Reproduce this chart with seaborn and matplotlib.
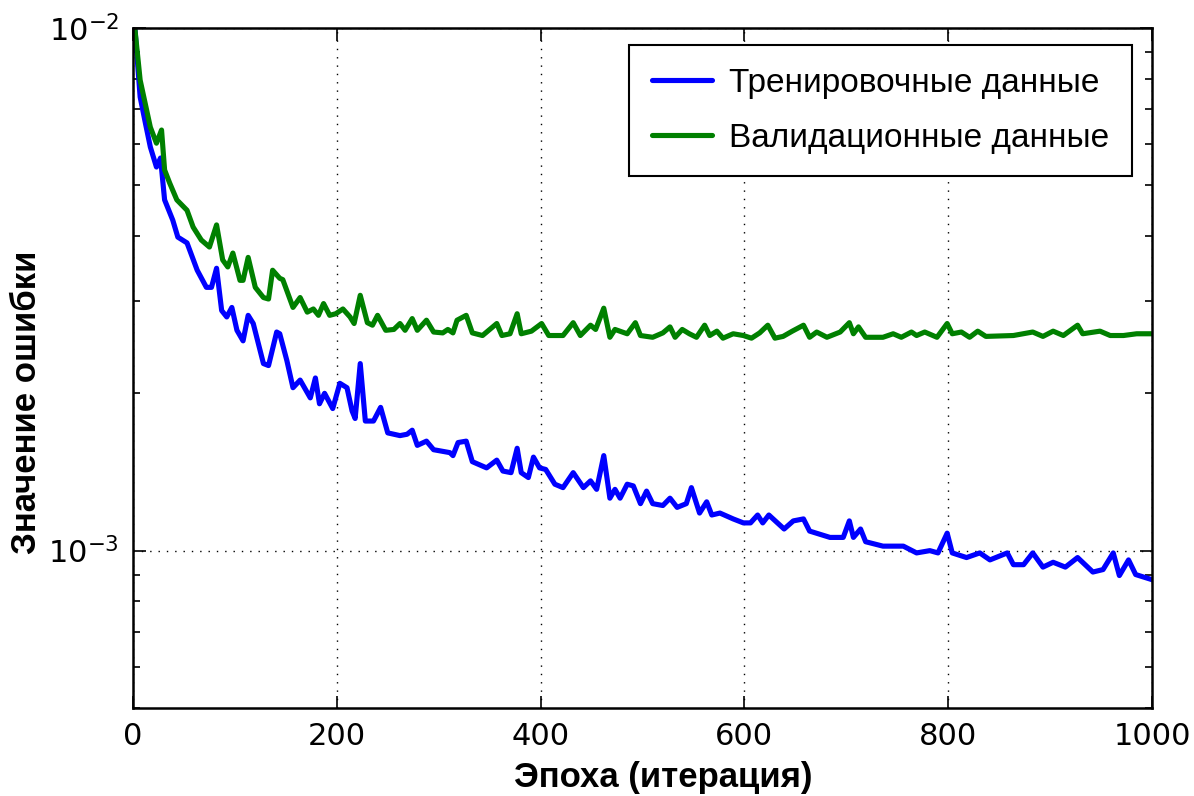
import numpy as np
import matplotlib
matplotlib.use("Agg")
import matplotlib.pyplot as plt
from matplotlib import ticker
import seaborn as sns

# error values
train_epoch = [0, 2, 7, 12, 17, 23, 27, 31, 39, 44, 53, 63, 72, 77, 82, 87, 92, 97, 102, 108,
               113, 118, 128, 133, 141, 144, 151, 157, 164, 174, 179, 183, 188, 196, 203, 210,
               215, 218, 223, 228, 236, 243, 250, 262, 269, 274, 279, 288, 295, 311, 314, 319,
               327, 333, 347, 357, 363, 371, 377, 381, 388, 393, 399, 405, 414, 422, 432, 442,
               449, 455, 462, 468, 473, 478, 485, 491, 498, 504, 510, 520, 527, 534, 543, 548,
               556, 563, 568, 576, 589, 599, 606, 613, 618, 624, 639, 648, 658, 664, 684, 697,
               703, 707, 714, 719, 736, 756, 769, 782, 790, 799, 804, 818, 831, 841, 858, 864,
               874, 883, 893, 903, 915, 927, 942, 952, 962, 968, 977, 984, 1000]
train_err = [0.0100, 0.0099, 0.00738, 0.0066, 0.00592, 0.00542, 0.00564, 0.00469, 0.00429, 0.00398,
             0.00388, 0.00344, 0.00319, 0.00319, 0.00347, 0.00288, 0.00280, 0.00292, 0.00264, 0.00252,
             0.00282, 0.00272, 0.00228, 0.00226, 0.00262, 0.00260, 0.00231, 0.00205, 0.00212, 0.00196,
             0.00214, 0.00191, 0.00200, 0.00187, 0.00209, 0.00205, 0.00185, 0.00179, 0.00228, 0.00177,
             0.00177, 0.00188, 0.00168, 0.00166, 0.00167, 0.00170, 0.00159, 0.00162, 0.00156, 0.00154,
             0.00152, 0.00161, 0.00162, 0.00148, 0.00144, 0.00149, 0.00142, 0.00141, 0.00157, 0.00141,
             0.00138, 0.00151, 0.00144, 0.00143, 0.00134, 0.00132, 0.00141, 0.00132, 0.00136, 0.00131,
             0.00152, 0.00126, 0.00131, 0.00126, 0.00134, 0.00133, 0.00123, 0.00130, 0.00123, 0.00122,
             0.00126, 0.00121, 0.00123, 0.00132, 0.00118, 0.00124, 0.00117, 0.00118, 0.00115, 0.00113,
             0.00113, 0.00117, 0.00113, 0.00117, 0.00110, 0.00114, 0.00115, 0.00109, 0.00106, 0.00106,
             0.00114, 0.00106, 0.00110, 0.00104, 0.00102, 0.00102, 0.00099, 0.00100, 0.00099, 0.00108,
             0.00099, 0.00097, 0.00099, 0.00096, 0.00099, 0.00094, 0.00094, 0.00099, 0.00093, 0.00095,
             0.00093, 0.00097, 0.00091, 0.00092, 0.00099, 0.000896, 0.00096, 0.00090, 0.00088]

val_epoch = [0, 2, 7, 17, 23, 28, 31, 36, 43, 53, 59, 67, 75, 82, 88, 93, 98, 105, 108, 113,
             120, 128, 133, 137, 144, 147, 157, 164, 171, 177, 182, 187, 193, 199, 206, 213,
             217, 223, 230, 235, 240, 248, 256, 262, 267, 274, 279, 288, 295, 304, 309, 314,
             318, 327, 333, 343, 357, 362, 370, 377, 381, 391, 401, 408, 422, 432, 439, 449,
             454, 462, 468, 473, 485, 493, 498, 510, 520, 527, 532, 539, 546, 553, 561, 566,
             573, 579, 589, 599, 607, 615, 623, 630, 638, 647, 658, 664, 671, 681, 694, 703,
             707, 712, 719, 736, 746, 754, 764, 769, 777, 789, 799, 804, 813, 821, 829, 837,
             864, 883, 893, 903, 913, 927, 932, 949, 959, 972, 985, 1000]
val_err = [0.0100, 0.0099, 0.00795, 0.00646, 0.00602, 0.00638, 0.00535, 0.00505, 0.00469, 0.00448,
           0.00416, 0.00393, 0.00381, 0.00420, 0.00360, 0.00349, 0.00371, 0.00329, 0.00329, 0.00364,
           0.00319, 0.00305, 0.00303, 0.00344, 0.00332, 0.00330, 0.00292, 0.00305, 0.00286, 0.00290,
           0.00282, 0.00297, 0.00282, 0.00284, 0.00290, 0.00280, 0.00272, 0.00308, 0.00273, 0.00270,
           0.00282, 0.00264, 0.00265, 0.00272, 0.00264, 0.00278, 0.00264, 0.00276, 0.00262, 0.00261,
           0.00265, 0.00261, 0.00276, 0.00282, 0.00261, 0.00258, 0.00272, 0.00258, 0.00260, 0.00284,
           0.00260, 0.00263, 0.00272, 0.00258, 0.00258, 0.00273, 0.00258, 0.00270, 0.00265, 0.00291,
           0.00256, 0.00265, 0.00260, 0.00273, 0.00258, 0.00256, 0.00261, 0.00268, 0.00256, 0.00265,
           0.00260, 0.00256, 0.00270, 0.00258, 0.00263, 0.00255, 0.00260, 0.00258, 0.00255, 0.00261,
           0.00270, 0.00255, 0.00257, 0.00263, 0.00270, 0.00256, 0.00262, 0.00256, 0.00262, 0.00273,
           0.00260, 0.00268, 0.00256, 0.00256, 0.00260, 0.00256, 0.00262, 0.00258, 0.00262, 0.00256,
           0.00272, 0.00260, 0.00262, 0.00256, 0.00263, 0.00257, 0.00258, 0.00262, 0.00257, 0.00263,
           0.00258, 0.00270, 0.00260, 0.00263, 0.00258, 0.00258, 0.00260, 0.00260]

labels = ["Тренировочные данные", "Валидационные данные"]
colors = ["#0000ff", "#008000"]

sns.set_style("white")
plt.rcParams["font.family"] = ["DejaVu Sans"]
plt.rcParams["text.color"] = "black"
plt.rcParams["axes.labelcolor"] = "black"
plt.rcParams["axes.unicode_minus"] = False

fig = plt.figure(figsize=(11.94, 7.96), dpi=100)
ax = fig.add_axes([0.1114, 0.1106, 0.8534, 0.8542])

sns.lineplot(x=train_epoch, y=train_err, ax=ax, color=colors[0], linewidth=3.7, label=labels[0])
sns.lineplot(x=val_epoch, y=val_err, ax=ax, color=colors[1], linewidth=3.7, label=labels[1])

ax.set_yscale("log")
ax.set_xlim(0, 1000)
ax.set_ylim(5e-4, 1e-2)
ax.xaxis.set_major_locator(ticker.MultipleLocator(200))
ax.yaxis.set_major_formatter(ticker.LogFormatterSciNotation())
ax.yaxis.set_minor_formatter(ticker.NullFormatter())

ax.tick_params(which="both", direction="in", top=True, right=True, bottom=True, left=True,
               colors="black", labelsize=22, width=1.2)
ax.tick_params(which="major", length=9, pad=10)
ax.tick_params(which="minor", length=5)
for s in ax.spines.values():
    s.set_color("black")
    s.set_linewidth(1.8)

ax.grid(True, which="major", linestyle=(0, (1, 5)), color="black", linewidth=1.0)
ax.set_axisbelow(True)

ax.set_xlabel("Эпоха (итерация)", fontsize=25, fontweight="bold", family="Liberation Sans")
ax.set_ylabel("Значение ошибки", fontsize=25, fontweight="bold", family="Liberation Sans")
ax.xaxis.set_label_coords(0.52, -0.078)
ax.yaxis.set_label_coords(-0.088, 0.45)

leg = ax.legend(loc="upper right", bbox_to_anchor=(0.98, 0.975), borderaxespad=0,
                prop={"family": "Liberation Sans", "size": 24}, fancybox=False, framealpha=1,
                edgecolor="black", handlelength=1.8, handletextpad=0.5, borderpad=0.68,
                labelspacing=0.72)
leg.get_frame().set_linewidth(1.5)

fig.savefig("out.png", dpi=100)
